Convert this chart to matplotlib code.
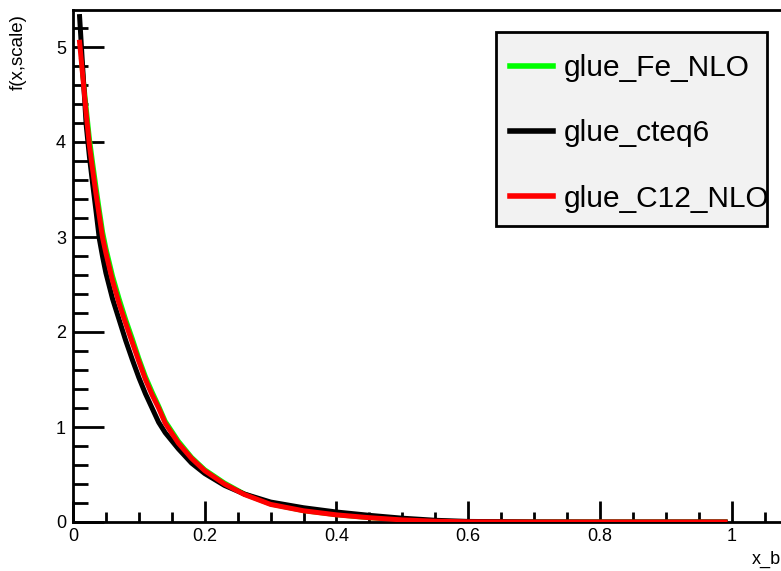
import matplotlib.pyplot as plt
from matplotlib.patches import Rectangle
from matplotlib.ticker import MultipleLocator

plt.rcParams['font.family'] = ['Liberation Sans', 'DejaVu Sans']

# valores (x_b, f(x,scale))
x_grid = [0.01, 0.015, 0.02, 0.025, 0.03, 0.035, 0.04, 0.045, 0.05, 0.06,
          0.07, 0.08, 0.09, 0.10, 0.11, 0.12, 0.13, 0.14, 0.16, 0.18,
          0.20, 0.23, 0.26, 0.30, 0.35, 0.40, 0.45, 0.50, 0.55, 0.60,
          0.70, 0.80, 0.90, 0.99]

glue_cteq6 = [5.32, 4.75, 4.18, 3.84, 3.55, 3.27, 2.98, 2.79, 2.62, 2.35,
              2.13, 1.91, 1.71, 1.52, 1.35, 1.20, 1.05, 0.94, 0.77, 0.62,
              0.51, 0.385, 0.295, 0.21, 0.15, 0.105, 0.07, 0.04, 0.018, 0.006,
              0.001, 0.0, 0.0, 0.0]

glue_C12_NLO = [5.05, 4.68, 4.30, 3.96, 3.70, 3.45, 3.22, 2.99, 2.83, 2.54,
                2.30, 2.09, 1.89, 1.69, 1.50, 1.34, 1.20, 1.04, 0.83, 0.67,
                0.54, 0.40, 0.29, 0.185, 0.118, 0.075, 0.045, 0.022, 0.008, 0.002,
                0.0, 0.0, 0.0, 0.0]

x_fe = [0.013, 0.015, 0.02, 0.025, 0.03, 0.035, 0.04, 0.045, 0.05, 0.06,
        0.07, 0.08, 0.09, 0.10, 0.11, 0.12, 0.13, 0.14, 0.16, 0.18,
        0.20, 0.23, 0.26, 0.30, 0.35, 0.40, 0.45, 0.50, 0.55, 0.60,
        0.70, 0.80, 0.90, 0.99]
glue_Fe_NLO = [4.86, 4.70, 4.36, 4.03, 3.77, 3.52, 3.28, 3.05, 2.88, 2.59,
               2.35, 2.13, 1.93, 1.72, 1.53, 1.37, 1.22, 1.06, 0.85, 0.68,
               0.55, 0.41, 0.295, 0.19, 0.12, 0.077, 0.046, 0.023, 0.008, 0.002,
               0.0, 0.0, 0.0, 0.0]

W, H = 781, 571
fig = plt.figure(figsize=(W / 100, H / 100), dpi=100)
fig.patch.set_facecolor('white')

esq, base, topo = 73, 522, 10
px_x = 658.7
xmax = 1.1
ax = fig.add_axes([esq / W, 1 - base / H, xmax * px_x / W, (base - topo) / H])

ax.plot(x_fe, glue_Fe_NLO, color='#00ff00', lw=3.6, label='glue_Fe_NLO', zorder=2)
ax.plot(x_grid, glue_cteq6, color='black', lw=3.6, label='glue_cteq6', zorder=3)
ax.plot(x_grid, glue_C12_NLO, color='#ff0000', lw=3.6, label='glue_C12_NLO', zorder=4)

ax.set_xlim(0, xmax)
ax.set_ylim(0, (base - topo) / 95.0)

ax.xaxis.set_minor_locator(MultipleLocator(0.05))
ax.yaxis.set_major_locator(MultipleLocator(1))
ax.yaxis.set_minor_locator(MultipleLocator(0.2))
ax.set_xticks([0, 0.2, 0.4, 0.6, 0.8, 1.0])
ax.set_xticklabels(['0', '0.2', '0.4', '0.6', '0.8', '1'])

ax.tick_params(axis='both', which='both', direction='in', width=2,
               labelsize=13, top=False, right=False)
ax.tick_params(axis='y', which='major', length=22, pad=5)
ax.tick_params(axis='y', which='minor', length=11)
ax.tick_params(axis='x', which='major', length=15, pad=4)
ax.tick_params(axis='x', which='minor', length=7)
for s in ax.spines.values():
    s.set_linewidth(2)

fig.text(18 / W, 1 - 14 / H, 'f(x,scale)', rotation=90, ha='center', va='top',
         fontsize=13.5)
fig.text(752 / W, 1 - 568 / H, 'x_b', ha='left', va='bottom', fontsize=13)

# caixa da legenda (estilo ROOT)
caixa = Rectangle((496 / W, 1 - 226 / H), (767 - 496) / W, (226 - 32) / H,
                  transform=fig.transFigure, facecolor='#f2f2f2',
                  edgecolor='black', linewidth=2, clip_on=False, zorder=5)
ax.add_patch(caixa)

leg = ax.legend(loc='upper left', bbox_to_anchor=(510 / W, 1 - 54 / H),
                bbox_transform=fig.transFigure, borderaxespad=0,
                fontsize=21.5, frameon=False, handlelength=1.45,
                handletextpad=0.35, labelspacing=1.25, borderpad=0)
leg.set_zorder(6)
for h in leg.get_lines():
    h.set_linewidth(4)

plt.savefig('out.png', dpi=100)
